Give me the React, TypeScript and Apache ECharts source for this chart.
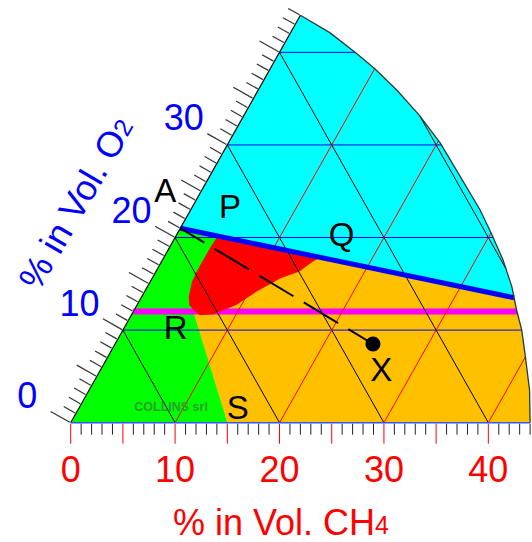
import { useEffect, useRef } from "react";
import * as echarts from "echarts";

// ---------- data (CH4 %, O2 %) ----------
const SKEW = 0.5; // triangular coordinates: O2 axis leans at ~60 degrees
const CH4_MAX = 44;
const O2_MAX = 44;

// outer boundary of the diagram (curved right edge)
const BOUNDARY_CH4 = [0, 3.8, 7.4, 9.9, 13.3, 16.8, 20.3, 24.0, 27.7, 30.1, 32.6, 34.9, 36.6, 38.2, 40.0, 42.2, 44.0];
const BOUNDARY_O2 = [44, 42.1, 39.9, 38.3, 35.9, 33.2, 30.2, 26.6, 23.0, 20.4, 17.6, 14.7, 12.2, 10.0, 7.1, 3.5, 0];

// air line (point A = air, 21% O2)
const AIR_O2 = 21;
// limiting oxygen concentration (magenta line)
const LIMIT_O2 = 12;

// green / orange border (from air line down to S)
const GREEN_EDGE_CH4 = [4.0, 5.5, 15];
const GREEN_EDGE_O2 = [20.16, 12.3, 0];

// explosive (red) region
const RED_CH4 = [4.0, 15.0, 14.5, 13.7, 12.3, 10.7, 9.5, 7.8, 6.6, 5.9, 5.0, 4.5, 4.0, 3.9, 3.9];
const RED_O2 = [20.16, 17.85, 17.4, 16.3, 15.6, 14.15, 12.7, 11.7, 11.6, 12.0, 12.7, 13.6, 15.2, 16.7, 18.8];

// point X
const POINT_X_CH4 = 24.7;
const POINT_X_O2 = 8.5;

// grid
const GRID_O2_LEVELS = [10, 20, 30, 40];
const GRID_SUM_LEVELS = [10, 20, 30, 40, 50];
const GRID_CH4_LEVELS = [10, 20, 30, 40];

// tick labels
const CH4_TICK_LABELS = [0, 10, 20, 30, 40];
const O2_TICK_LABELS = [0, 10, 20, 30];

// letter annotations
const LABEL_NAMES = ["A", "P", "Q", "R", "S", "X"];
const LABEL_CH4 = [-3.5, 3.6, 15.8, 4.9, 15.2, 26.9];
const LABEL_O2 = [25.1, 23.3, 20.3, 10.3, 1.6, 5.7];

const WATERMARK = "COLLINS srl";
const WATERMARK_CH4 = 8.75;
const WATERMARK_O2 = 1.73;

// ---------- geometry helpers ----------
type Pt = [number, number];

const BOUNDARY: Pt[] = BOUNDARY_CH4.map((c, i) => [c, BOUNDARY_O2[i]] as Pt);
const REGION: Pt[] = [[0, 0], ...BOUNDARY];

function insidePoly(p: Pt, poly: Pt[]): boolean {
  let inside = false;
  for (let i = 0, j = poly.length - 1; i < poly.length; j = i++) {
    const [xi, yi] = poly[i];
    const [xj, yj] = poly[j];
    if (yi > p[1] !== yj > p[1] && p[0] < ((xj - xi) * (p[1] - yi)) / (yj - yi) + xi) inside = !inside;
  }
  return inside;
}

function clipSegment(p0: Pt, p1: Pt, poly: Pt[]): [Pt, Pt][] {
  const ts = [0, 1];
  const rx = p1[0] - p0[0];
  const ry = p1[1] - p0[1];
  for (let i = 0; i < poly.length; i++) {
    const a = poly[i];
    const b = poly[(i + 1) % poly.length];
    const sx = b[0] - a[0];
    const sy = b[1] - a[1];
    const den = rx * sy - ry * sx;
    if (Math.abs(den) < 1e-12) continue;
    const qx = a[0] - p0[0];
    const qy = a[1] - p0[1];
    const t = (qx * sy - qy * sx) / den;
    const u = (qx * ry - qy * rx) / den;
    if (t >= 0 && t <= 1 && u >= 0 && u <= 1) ts.push(t);
  }
  ts.sort((a, b) => a - b);
  const lerp = (t: number): Pt => [p0[0] + rx * t, p0[1] + ry * t];
  const out: [Pt, Pt][] = [];
  for (let i = 0; i < ts.length - 1; i++) {
    if (ts[i + 1] - ts[i] < 1e-6) continue;
    const mid = lerp((ts[i] + ts[i + 1]) / 2);
    if (insidePoly(mid, poly)) out.push([lerp(ts[i]), lerp(ts[i + 1])]);
  }
  return out;
}

const airO2 = (c: number) => AIR_O2 * (1 - c / 100);
const AIR_SEG = clipSegment([0, AIR_O2], [100, 0], REGION)[0];
const AIR_END = AIR_SEG[1];
const ORANGE: Pt[] = [
  [0, 0],
  [0, AIR_O2],
  AIR_END,
  ...BOUNDARY.filter((p) => p[1] < airO2(p[0]) - 1e-6),
];
const GREEN: Pt[] = [[0, 0], [0, AIR_O2], ...GREEN_EDGE_CH4.map((c, i) => [c, GREEN_EDGE_O2[i]] as Pt)];
const RED: Pt[] = RED_CH4.map((c, i) => [c, RED_O2[i]] as Pt);

const FONT = '"Liberation Sans", Arial, Helvetica, sans-serif';

function renderItem(_params: any, api: any) {
  const P = (p: Pt): number[] => api.coord([p[0] + SKEW * p[1], p[1]]);
  const children: any[] = [];
  const polygon = (pts: Pt[], fill: string) =>
    children.push({ type: "polygon", shape: { points: pts.map(P) }, style: { fill, stroke: null } });
  const seg = (a: Pt, b: Pt, style: any) => {
    const pa = P(a);
    const pb = P(b);
    children.push({ type: "line", shape: { x1: pa[0], y1: pa[1], x2: pb[0], y2: pb[1] }, style: { fill: null, ...style } });
  };
  const clipped = (a: Pt, b: Pt, style: any) => clipSegment(a, b, REGION).forEach(([s, e]) => seg(s, e, style));

  // fills
  polygon(REGION, "#00FFFF");
  polygon(ORANGE, "#FFC000");
  polygon(GREEN, "#00FF00");
  // limiting O2 line
  clipped([0, LIMIT_O2], [60, LIMIT_O2], { stroke: "#FF00FF", lineWidth: 6 });
  polygon(RED, "#FF0000");

  // grid
  GRID_O2_LEVELS.forEach((k) => clipped([0, k], [60, k], { stroke: "#0000FF", lineWidth: 1 }));
  GRID_SUM_LEVELS.forEach((k) => clipped([0, k], [k, 0], { stroke: "#000000", lineWidth: 1 }));
  GRID_CH4_LEVELS.forEach((k) => clipped([k, 0], [k, 60], { stroke: "#FF0000", lineWidth: 1 }));

  // air line
  seg(AIR_SEG[0], AIR_SEG[1], { stroke: "#0000FF", lineWidth: 5 });

  // outline
  const bpts = BOUNDARY.map(P);
  children.push({ type: "polyline", shape: { points: bpts }, style: { stroke: "#2b3b3b", lineWidth: 1.3, fill: null } });
  seg([0, 0], [0, O2_MAX], { stroke: "#000000", lineWidth: 1.2 });
  seg([0, 0], [CH4_MAX, 0], { stroke: "#3355FF", lineWidth: 1.5 });

  // dashed mixing line A -> X and point X
  seg([0, AIR_O2], [POINT_X_CH4, POINT_X_O2], { stroke: "#000000", lineWidth: 2, lineDash: [40, 12], lineDashOffset: 12 });
  const px = P([POINT_X_CH4, POINT_X_O2]);
  children.push({ type: "circle", shape: { cx: px[0], cy: px[1], r: 7.5 }, style: { fill: "#000000" } });

  // bottom ticks
  for (let i = 0; i <= CH4_MAX; i++) {
    const [x, y] = P([i, 0]);
    const major = i % 5 === 0;
    children.push({
      type: "line",
      shape: { x1: x, y1: y + 1, x2: x, y2: y + (major ? 21 : 12) },
      style: { stroke: major ? "#FF0000" : "#222222", lineWidth: 1 },
    });
  }
  // left ticks (perpendicular to slanted axis)
  const a0 = P([0, 0]);
  const a1 = P([0, O2_MAX]);
  const len = Math.hypot(a1[0] - a0[0], a1[1] - a0[1]);
  const dx = (a1[0] - a0[0]) / len;
  const dy = (a1[1] - a0[1]) / len;
  const nx = dy;
  const ny = -dx;
  for (let j = 0; j <= O2_MAX; j++) {
    const [x, y] = P([0, j]);
    const l = j % 5 === 0 ? 23 : 14;
    children.push({
      type: "line",
      shape: { x1: x + nx, y1: y + ny, x2: x + nx * l, y2: y + ny * l },
      style: { stroke: "#333333", lineWidth: 1.2 },
    });
  }

  // tick labels
  CH4_TICK_LABELS.forEach((v) => {
    const [x, y] = P([v, 0]);
    children.push({
      type: "text",
      x,
      y: y + 47,
      style: { text: String(v), fill: "#FF0000", fontSize: 36, fontFamily: FONT, align: "center", verticalAlign: "middle" },
    });
  });
  O2_TICK_LABELS.forEach((v) => {
    const [x, y] = P([0, v]);
    children.push({
      type: "text",
      x: x - 43.5,
      y: y - 27,
      style: { text: String(v), fill: "#0000FF", fontSize: 36, fontFamily: FONT, align: "center", verticalAlign: "middle" },
    });
  });

  // letters
  LABEL_NAMES.forEach((name, i) => {
    const [x, y] = P([LABEL_CH4[i], LABEL_O2[i]]);
    children.push({
      type: "text",
      x,
      y,
      style: { text: name, fill: "#000000", fontSize: 33, fontFamily: FONT, align: "center", verticalAlign: "middle" },
    });
  });

  const wm = P([WATERMARK_CH4, WATERMARK_O2]);
  children.push({
    type: "text",
    x: wm[0],
    y: wm[1],
    style: { text: WATERMARK, fill: "#2aa02a", fontSize: 12.5, fontWeight: "bold", fontFamily: FONT, align: "center", verticalAlign: "middle" },
  });

  return { type: "group", children };
}

export default function App() {
  const ref = useRef<HTMLDivElement>(null);
  useEffect(() => {
    if (!ref.current) return;
    const chart = echarts.init(ref.current, null, { renderer: "svg" });
    chart.setOption({
      animation: false,
      backgroundColor: "#ffffff",
      grid: { left: 70.7, top: 15.3, width: 459.4, height: 407.4 },
      xAxis: { type: "value", min: 0, max: CH4_MAX, show: false },
      yAxis: { type: "value", min: 0, max: O2_MAX, show: false },
      series: [
        {
          type: "custom",
          coordinateSystem: "cartesian2d",
          clip: false,
          silent: true,
          data: [[0, 0]],
          renderItem,
        },
      ],
      graphic: [
        {
          type: "text",
          x: 281,
          y: 522,
          style: {
            text: "{a|% in Vol. CH}{b|4}",
            align: "center",
            verticalAlign: "middle",
            rich: {
              a: { fontSize: 36, lineHeight: 30, fontFamily: FONT, fill: "#FF0000", color: "#FF0000" },
              b: { fontSize: 25, lineHeight: 20, fontFamily: FONT, fill: "#FF0000", color: "#FF0000", verticalAlign: "bottom" },
            },
          },
        },
        {
          type: "text",
          x: 76,
          y: 203,
          rotation: Math.PI / 3,
          style: {
            text: "{a|% in Vol. O}{b|2}",
            align: "center",
            verticalAlign: "middle",
            rich: {
              a: { fontSize: 36, lineHeight: 30, fontFamily: FONT, fill: "#0000FF", color: "#0000FF" },
              b: { fontSize: 25, lineHeight: 22, fontFamily: FONT, fill: "#0000FF", color: "#0000FF", verticalAlign: "bottom" },
            },
          },
        },
      ],
    });
    return () => chart.dispose();
  }, []);
  return (
    <div
      ref={ref}
      style={{ position: "fixed", left: 0, top: 0, width: 532, height: 542, background: "#ffffff" }}
    />
  );
}
